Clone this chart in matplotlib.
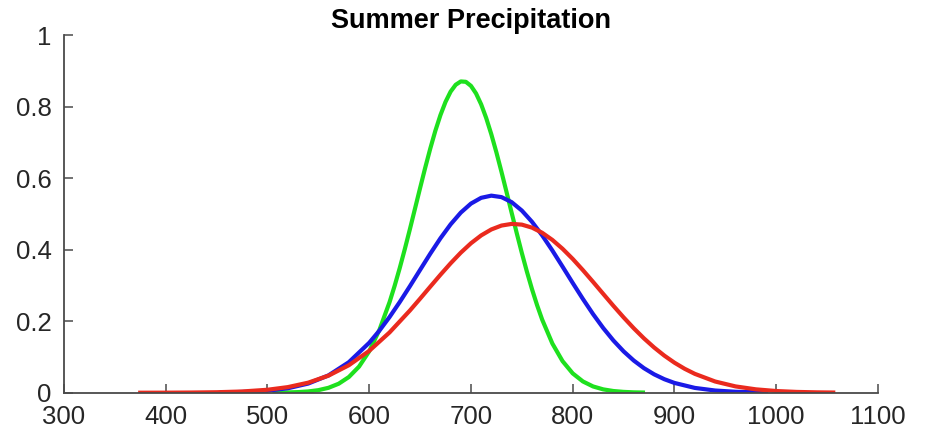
#!/usr/bin/env python
# -*- coding: utf-8 -*-
import matplotlib
matplotlib.use("Agg")
import matplotlib.pyplot as plt

# 绿色曲线
green_x = [507, 520, 530, 540, 550, 560, 570, 580, 590, 600, 610, 620, 625, 630,
           635, 640, 645, 650, 655, 660, 665, 670, 675, 680, 685, 690, 695, 700,
           705, 710, 715, 720, 725, 730, 735, 740, 745, 750, 755, 760, 765, 770,
           780, 790, 800, 810, 820, 830, 840, 850, 860, 869]
green_y = [0.0002, 0.0008, 0.0017, 0.0035, 0.0071, 0.0137, 0.0251, 0.0438, 0.0729,
           0.1158, 0.1753, 0.2531, 0.2988, 0.3484, 0.4015, 0.4572, 0.5145, 0.5720,
           0.6285, 0.6823, 0.7321, 0.7761, 0.8130, 0.8417, 0.8609, 0.8702, 0.8691,
           0.8578, 0.8366, 0.8063, 0.7678, 0.7225, 0.6719, 0.6174, 0.5606, 0.5029,
           0.4459, 0.3906, 0.3382, 0.2893, 0.2446, 0.2042, 0.1375, 0.0883, 0.0540,
           0.0315, 0.0175, 0.0093, 0.0047, 0.0023, 0.0010, 0.0005]

# 蓝色曲线
blue_x = [455, 480, 500, 520, 540, 560, 580, 600, 610, 620, 630, 640, 650, 660,
          670, 680, 690, 700, 710, 720, 730, 740, 750, 760, 770, 780, 790, 800,
          810, 820, 830, 840, 850, 860, 870, 880, 890, 900, 920, 940, 960, 990]
blue_y = [0.0007, 0.0024, 0.0056, 0.0124, 0.0255, 0.0484, 0.0853, 0.1395, 0.1734,
          0.2116, 0.2534, 0.2977, 0.3433, 0.3886, 0.4317, 0.4706, 0.5035, 0.5287,
          0.5448, 0.5509, 0.5468, 0.5327, 0.5092, 0.4777, 0.4399, 0.3975, 0.3525,
          0.3068, 0.2621, 0.2197, 0.1807, 0.1459, 0.1156, 0.0899, 0.0686, 0.0514,
          0.0378, 0.0273, 0.0134, 0.0061, 0.0026, 0.0006]

# 红色曲线
red_x = [375, 400, 425, 450, 475, 500, 520, 540, 560, 580, 600, 620, 640, 650,
         660, 670, 680, 690, 700, 710, 720, 730, 740, 750, 760, 770, 780, 790,
         800, 810, 820, 830, 840, 850, 860, 870, 880, 890, 900, 910, 920, 940,
         960, 980, 1000, 1020, 1040, 1056]
red_y = [0.0000, 0.0001, 0.0005, 0.0013, 0.0034, 0.0082, 0.0156, 0.0280, 0.0477,
         0.0768, 0.1169, 0.1685, 0.2298, 0.2628, 0.2964, 0.3297, 0.3617, 0.3915,
         0.4178, 0.4397, 0.4564, 0.4673, 0.4719, 0.4699, 0.4615, 0.4471, 0.4271,
         0.4024, 0.3740, 0.3427, 0.3098, 0.2762, 0.2428, 0.2106, 0.1801, 0.1519,
         0.1264, 0.1037, 0.0839, 0.0669, 0.0527, 0.0313, 0.0176, 0.0094, 0.0047,
         0.0022, 0.0010, 0.0005]

x_ticks = [300, 400, 500, 600, 700, 800, 900, 1000, 1100]
y_ticks = [0, 0.2, 0.4, 0.6, 0.8, 1]
y_tick_labels = ["0", "0.2", "0.4", "0.6", "0.8", "1"]

plt.rcParams["font.family"] = ["Liberation Sans", "DejaVu Sans"]
axis_color = "#4a4a4a"

fig = plt.figure(figsize=(9.29, 4.36), dpi=100)
ax = fig.add_axes([0.0688, 0.0993, 0.8763, 0.8204])

# 三条曲线, 红色画在最上面
ax.plot(green_x, green_y, color="#1ee01e", linewidth=3.0, solid_joinstyle="round")
ax.plot(blue_x, blue_y, color="#1a1ae6", linewidth=3.0, solid_joinstyle="round")
ax.plot(red_x, red_y, color="#ea2a1e", linewidth=3.0, solid_joinstyle="round")

ax.set_xlim(300, 1100)
ax.set_ylim(0, 1)
ax.set_xticks(x_ticks)
ax.set_yticks(y_ticks)
ax.set_yticklabels(y_tick_labels)

# 坐标轴样式 (只保留左边和下边)
ax.spines["top"].set_visible(False)
ax.spines["right"].set_visible(False)
for side in ["left", "bottom"]:
    ax.spines[side].set_color(axis_color)
    ax.spines[side].set_linewidth(1.3)
ax.tick_params(direction="in", length=6.5, width=1.1, color=axis_color,
               labelsize=18.5, labelcolor="#262626")
ax.tick_params(axis="x", pad=9)
ax.tick_params(axis="y", pad=9)

ax.set_title("Summer Precipitation", fontsize=19.5, fontweight="bold", pad=5)

fig.savefig("out.png", dpi=100)
